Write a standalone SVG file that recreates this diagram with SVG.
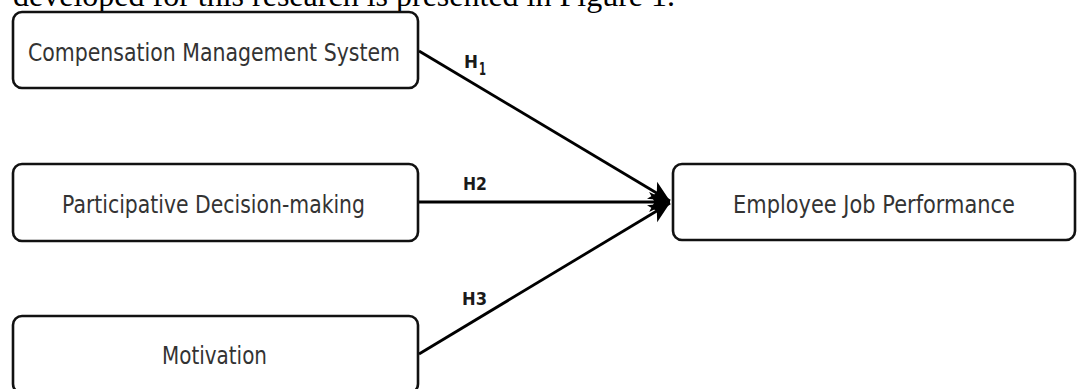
<svg xmlns="http://www.w3.org/2000/svg" width="1077" height="389" viewBox="0 0 1077 389">
<style>
.box{fill:#fff;stroke:#111;stroke-width:2.6}
.lbl{font-family:"DejaVu Sans","Liberation Sans",sans-serif;font-size:24px;fill:#333;text-anchor:start}
.h{font-family:"DejaVu Sans","Liberation Sans",sans-serif;font-size:18px;font-weight:bold;fill:#1a1a1a}
.edge{stroke:#000;stroke-width:2.8;fill:none}
.cap{font-family:"Liberation Serif","Times New Roman",serif;font-size:32px;fill:#000}
</style>
<defs>
<marker id="arr" markerUnits="userSpaceOnUse" markerWidth="22" markerHeight="22" viewBox="0 0 20 20" refX="19" refY="10" orient="auto">
<path d="M0,1 L19,10 L0,19 L5,10 Z" fill="#000"/>
</marker>
</defs>
<rect width="1077" height="389" fill="#fff"/>
<text class="cap" x="13" y="6">developed for this research is presented in Figure 1.</text>
<g id="connectors">
<line class="edge" x1="419" y1="51" x2="670" y2="201" marker-end="url(#arr)"/>
<line class="edge" x1="419" y1="202" x2="670" y2="202" marker-end="url(#arr)"/>
<line class="edge" x1="419" y1="354" x2="670" y2="203" marker-end="url(#arr)"/>
<text class="h" x="464" y="68" textLength="14" lengthAdjust="spacingAndGlyphs">H</text>
<text class="h" x="479" y="75" font-size="12" textLength="7" lengthAdjust="spacingAndGlyphs">1</text>
<text class="h" x="463" y="190" textLength="24" lengthAdjust="spacingAndGlyphs">H2</text>
<text class="h" x="462" y="305" textLength="25" lengthAdjust="spacingAndGlyphs">H3</text>
</g>
<g id="node-cms">
<rect class="box" x="13" y="12" width="405" height="76" rx="9"/>
<text class="lbl" x="28" y="61" textLength="372" lengthAdjust="spacingAndGlyphs">Compensation Management System</text>
</g>
<g id="node-pdm">
<rect class="box" x="13" y="164" width="405" height="77" rx="9"/>
<text class="lbl" x="62" y="213" textLength="303" lengthAdjust="spacingAndGlyphs">Participative Decision-making</text>
</g>
<g id="node-mot">
<rect class="box" x="13" y="316" width="405" height="77" rx="9"/>
<text class="lbl" x="162" y="364" textLength="105" lengthAdjust="spacingAndGlyphs">Motivation</text>
</g>
<g id="node-ejp">
<rect class="box" x="673" y="164" width="402" height="76" rx="9"/>
<text class="lbl" x="733" y="213" textLength="282" lengthAdjust="spacingAndGlyphs">Employee Job Performance</text>
</g>
</svg>
